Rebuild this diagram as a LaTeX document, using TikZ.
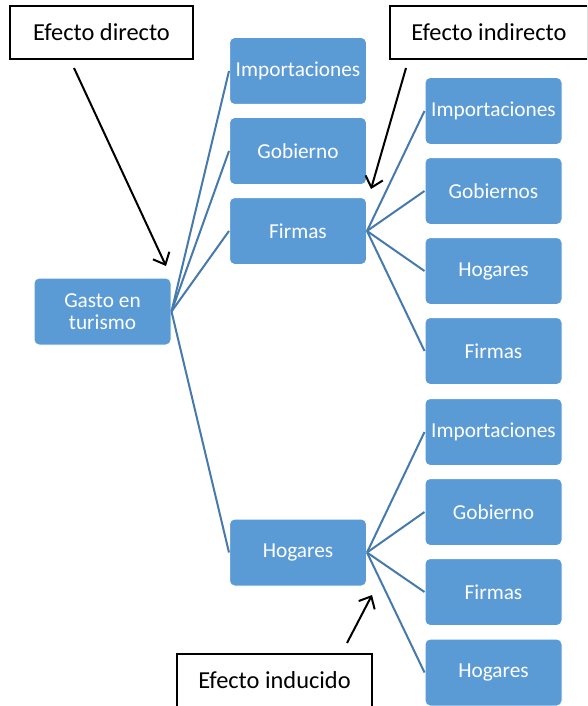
\documentclass[tikz,border=0pt]{standalone}
\usepackage{fontspec}
\setmainfont{Carlito}
\usetikzlibrary{arrows.meta}
\definecolor{cajaazul}{HTML}{5B9BD5}
\definecolor{ramaazul}{RGB}{70,122,172}
\tikzset{
  caja/.style={rectangle, rounded corners=5pt, fill=cajaazul, draw=white, line width=1pt,
    minimum width=137pt, minimum height=67pt, text=white, align=center,
    font=\fontsize{21.3}{24}\selectfont},
  etiqueta/.style={rectangle, draw=black, line width=1.6pt, fill=white, minimum height=53pt,
    font=\fontsize{24.4}{28}\selectfont},
  rama/.style={draw=ramaazul, line width=2pt},
  flecha/.style={line width=2pt, -{Straight Barb[length=10pt,width=18pt,line width=2pt]}}
}
\begin{document}
\begin{tikzpicture}[x=1pt,y=-1pt]
      \clip (0,0) rectangle (587,706);
      \fill[white] (0,0) rectangle (587,706);
      \draw
        (102.5,311.5) node[caja] (gasto){Gasto en\\[-2pt]turismo}
        (298,71) node[caja] (imp){Importaciones}
        (298,151) node[caja] (gob){Gobierno}
        (298,231) node[caja] (fir){Firmas}
        (298,552.5) node[caja] (hog){Hogares}
        (493.5,111) node[caja] (fimp){Importaciones}
        (493.5,191) node[caja] (fgob){Gobiernos}
        (493.5,271) node[caja] (fhog){Hogares}
        (493.5,351) node[caja] (ffir){Firmas}
        (493.5,432) node[caja] (himp){Importaciones}
        (493.5,512) node[caja] (hgob){Gobierno}
        (493.5,592) node[caja] (hfir){Firmas}
        (493.5,672.5) node[caja] (hhog){Hogares};
      \draw
        (101.5,32.5) node[etiqueta, minimum width=183pt] (directo){Efecto directo}
        (489,32.5) node[etiqueta, minimum width=198pt] (indirecto){Efecto indirecto}
        (274.5,680.5) node[etiqueta, minimum width=195pt] (inducido){Efecto inducido};
      \begin{scope}[rama]
        \draw (gasto.east) to (imp.west);
        \draw (gasto.east) to (gob.west);
        \draw (gasto.east) to (fir.west);
        \draw (gasto.east) to (hog.west);
        \draw (fir.east) to (fimp.west);
        \draw (fir.east) to (fgob.west);
        \draw (fir.east) to (fhog.west);
        \draw (fir.east) to (ffir.west);
        \draw (hog.east) to (himp.west);
        \draw (hog.east) to (hgob.west);
        \draw (hog.east) to (hfir.west);
        \draw (hog.east) to (hhog.west);
      \end{scope}
      \coordinate (dir0) at (74,68);
      \coordinate (dir1) at (166,266);
      \coordinate (ind0) at (406,68);
      \coordinate (ind1) at (371,189);
      \coordinate (inu0) at (347,643);
      \coordinate (inu1) at (372,595);
      \begin{scope}[flecha]
        \draw (dir0) to (dir1);
        \draw (ind0) to (ind1);
        \draw (inu0) to (inu1);
      \end{scope}
    \end{tikzpicture}
\end{document}
